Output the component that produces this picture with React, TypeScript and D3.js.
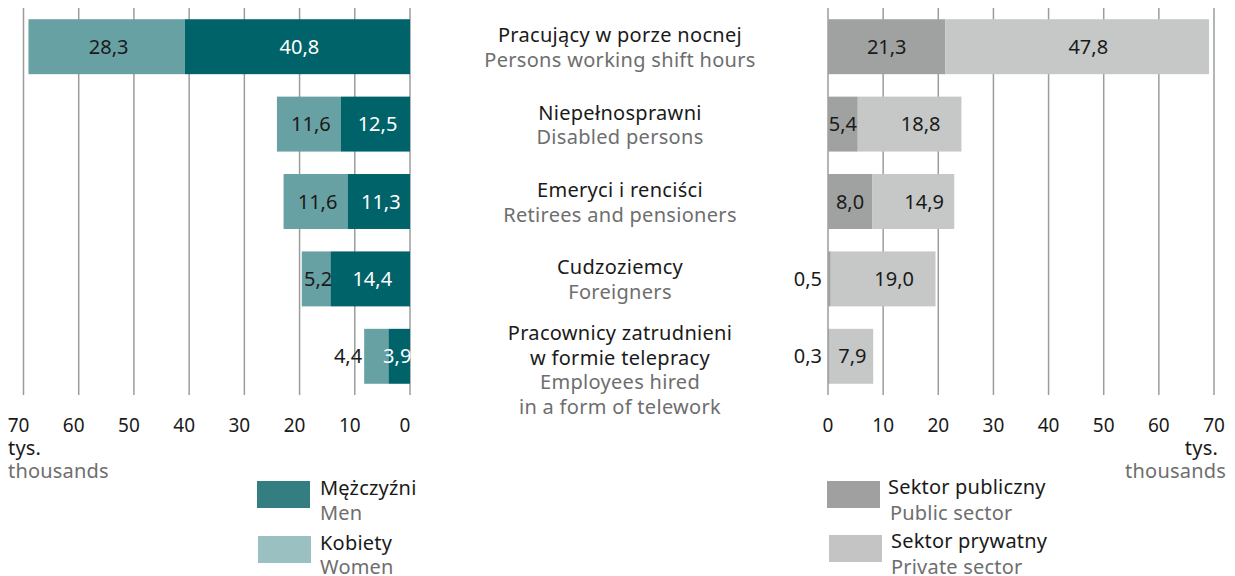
import React from "react";
import * as d3 from "d3";

const categoriesPl: string[][] = [
  ["Pracujący w porze nocnej"],
  ["Niepełnosprawni"],
  ["Emeryci i renciści"],
  ["Cudzoziemcy"],
  ["Pracownicy zatrudnieni", "w formie telepracy"],
];
const categoriesEn: string[][] = [
  ["Persons working shift hours"],
  ["Disabled persons"],
  ["Retirees and pensioners"],
  ["Foreigners"],
  ["Employees hired", "in a form of telework"],
];
const men = [40.8, 12.5, 11.3, 14.4, 3.9];
const women = [28.3, 11.6, 11.6, 5.2, 4.4];
const publicSector = [21.3, 5.4, 8.0, 0.5, 0.3];
const privateSector = [47.8, 18.8, 14.9, 19.0, 7.9];
const ticks = [0, 10, 20, 30, 40, 50, 60, 70];

const FONT = "'Noto Sans', 'Open Sans', sans-serif";
const FS = 20;
const FS_TICK = 19;
const C_MEN = "#00636a";
const C_WOMEN = "#68a1a4";
const C_MEN_LEG = "#347e82";
const C_WOMEN_LEG = "#9ac0c2";
const C_PUB = "#a0a2a1";
const C_PRIV = "#c6c8c7";
const C_PUB_LEG = "#a0a0a0";
const C_PRIV_LEG = "#c4c4c4";
const BLACK = "#1a1a1a";
const GRAY = "#6e6e6e";
const GRID = "#9c9c9c";

const fmt = (v: number) => v.toFixed(1).replace(".", ",");

export default function App() {
  const idx = categoriesPl.map((_, i) => String(i));
  const y = d3.scaleBand().domain(idx).range([8, 395]).paddingInner(0.29).paddingOuter(0.145);
  const xL = d3.scaleLinear().domain([0, 70]).range([410, 23.5]);
  const xR = d3.scaleLinear().domain([0, 70]).range([828, 1214]);
  const bw = y.bandwidth();
  const [g0, g1] = [8, 395];

  const valText = (x: number, yy: number, t: string, fill: string, anchor: string = "middle") => (
    <text x={x} y={yy} textAnchor={anchor as any} fill={fill} fontSize={FS} fontFamily={FONT}>
      {t}
    </text>
  );

  const T = (x: number, yy: number, t: string, fill: string, anchor: string = "start") => (
    <text x={x} y={yy} textAnchor={anchor as any} fontSize={FS} fontFamily={FONT} fill={fill} letterSpacing={0.2}>
      {t}
    </text>
  );

  return (
    <svg width={1235} height={576} style={{ position: "absolute", left: 0, top: 0 }}>
      <rect x={0} y={0} width={1235} height={576} fill="#fff" />
      {ticks.map((t) => (
        <line key={"gl" + t} x1={xL(t)} x2={xL(t)} y1={g0} y2={g1} stroke={GRID} strokeWidth={1.5} />
      ))}
      {ticks.map((t) => (
        <line key={"gr" + t} x1={xR(t)} x2={xR(t)} y1={g0} y2={g1} stroke={GRID} strokeWidth={1.5} />
      ))}
      {idx.map((k, i) => {
        const y0 = y(k)!;
        const cy = y0 + bw / 2;
        const mEnd = xL(men[i]);
        const wEnd = xL(men[i] + women[i]);
        const wWidth = mEnd - wEnd;
        return (
          <g key={"l" + k}>
            <rect x={wEnd} y={y0} width={wWidth} height={bw} fill={C_WOMEN} />
            <rect x={mEnd} y={y0} width={xL(0) - mEnd} height={bw} fill={C_MEN} />
            {wWidth < 26
              ? valText(wEnd - 2, cy + 7, fmt(women[i]), BLACK, "end")
              : valText((wEnd + mEnd) / 2 + 2, cy + 7, fmt(women[i]), BLACK)}
            {valText((mEnd + xL(0)) / 2 + (xL(0) - mEnd < 30 ? -2 : 2), cy + 7, fmt(men[i]), "#fff")}
          </g>
        );
      })}
      {idx.map((k, i) => {
        const y0 = y(k)!;
        const cy = y0 + bw / 2;
        const pEnd = xR(publicSector[i]);
        const qEnd = xR(publicSector[i] + privateSector[i]);
        const pWidth = pEnd - xR(0);
        const qWidth = qEnd - pEnd;
        return (
          <g key={"r" + k}>
            <rect x={xR(0)} y={y0} width={pWidth} height={bw} fill={C_PUB} />
            <rect x={pEnd} y={y0} width={qWidth} height={bw} fill={C_PRIV} />
            {pWidth < 26
              ? valText(xR(0) - 6, cy + 7, fmt(publicSector[i]), BLACK, "end")
              : valText((xR(0) + pEnd) / 2, cy + 7, fmt(publicSector[i]), BLACK)}
            {valText((pEnd + qEnd) / 2 + (qWidth > 60 ? 11 : 1), cy + 7, fmt(privateSector[i]), BLACK)}
          </g>
        );
      })}
      {idx.map((k, i) => {
        const cy = y(k)! + bw / 2;
        const lines = [
          ...categoriesPl[i].map((t) => ({ t, c: BLACK })),
          ...categoriesEn[i].map((t) => ({ t, c: GRAY })),
        ];
        const first = cy - 4.5 - (lines.length - 2) * 5.75;
        return (
          <text key={"c" + k} textAnchor="middle" fontSize={FS} fontFamily={FONT} letterSpacing={0.3}>
            {lines.map((l, j) => (
              <tspan key={j} x={620} y={first + j * 24.5} fill={l.c}>
                {l.t}
              </tspan>
            ))}
          </text>
        );
      })}
      {ticks.map((t) => (
        <text key={"tl" + t} x={xL(t) - 5} y={432} textAnchor="middle" fontSize={FS_TICK} fontFamily={FONT} fill={BLACK}>
          {t}
        </text>
      ))}
      {ticks.map((t) => (
        <text key={"tr" + t} x={xR(t)} y={432} textAnchor="middle" fontSize={FS_TICK} fontFamily={FONT} fill={BLACK}>
          {t}
        </text>
      ))}
      {T(8, 455, "tys.", BLACK)}
      {T(8, 478, "thousands", GRAY)}
      {T(1218, 455, "tys.", BLACK, "end")}
      {T(1226, 478, "thousands", GRAY, "end")}
      <rect x={257} y={481} width={53} height={27} fill={C_MEN_LEG} />
      {T(320, 495, "Mężczyźni", BLACK)}
      {T(320, 520, "Men", GRAY)}
      <rect x={258} y={536} width={53} height={27} fill={C_WOMEN_LEG} />
      {T(320, 550, "Kobiety", BLACK)}
      {T(320, 574, "Women", GRAY)}
      <rect x={827} y={481} width={53} height={27} fill={C_PUB_LEG} />
      {T(888, 494, "Sektor publiczny", BLACK)}
      {T(890, 520, "Public sector", GRAY)}
      <rect x={829} y={535} width={53} height={27} fill={C_PRIV_LEG} />
      {T(891, 548, "Sektor prywatny", BLACK)}
      {T(891, 574, "Private sector", GRAY)}
    </svg>
  );
}
